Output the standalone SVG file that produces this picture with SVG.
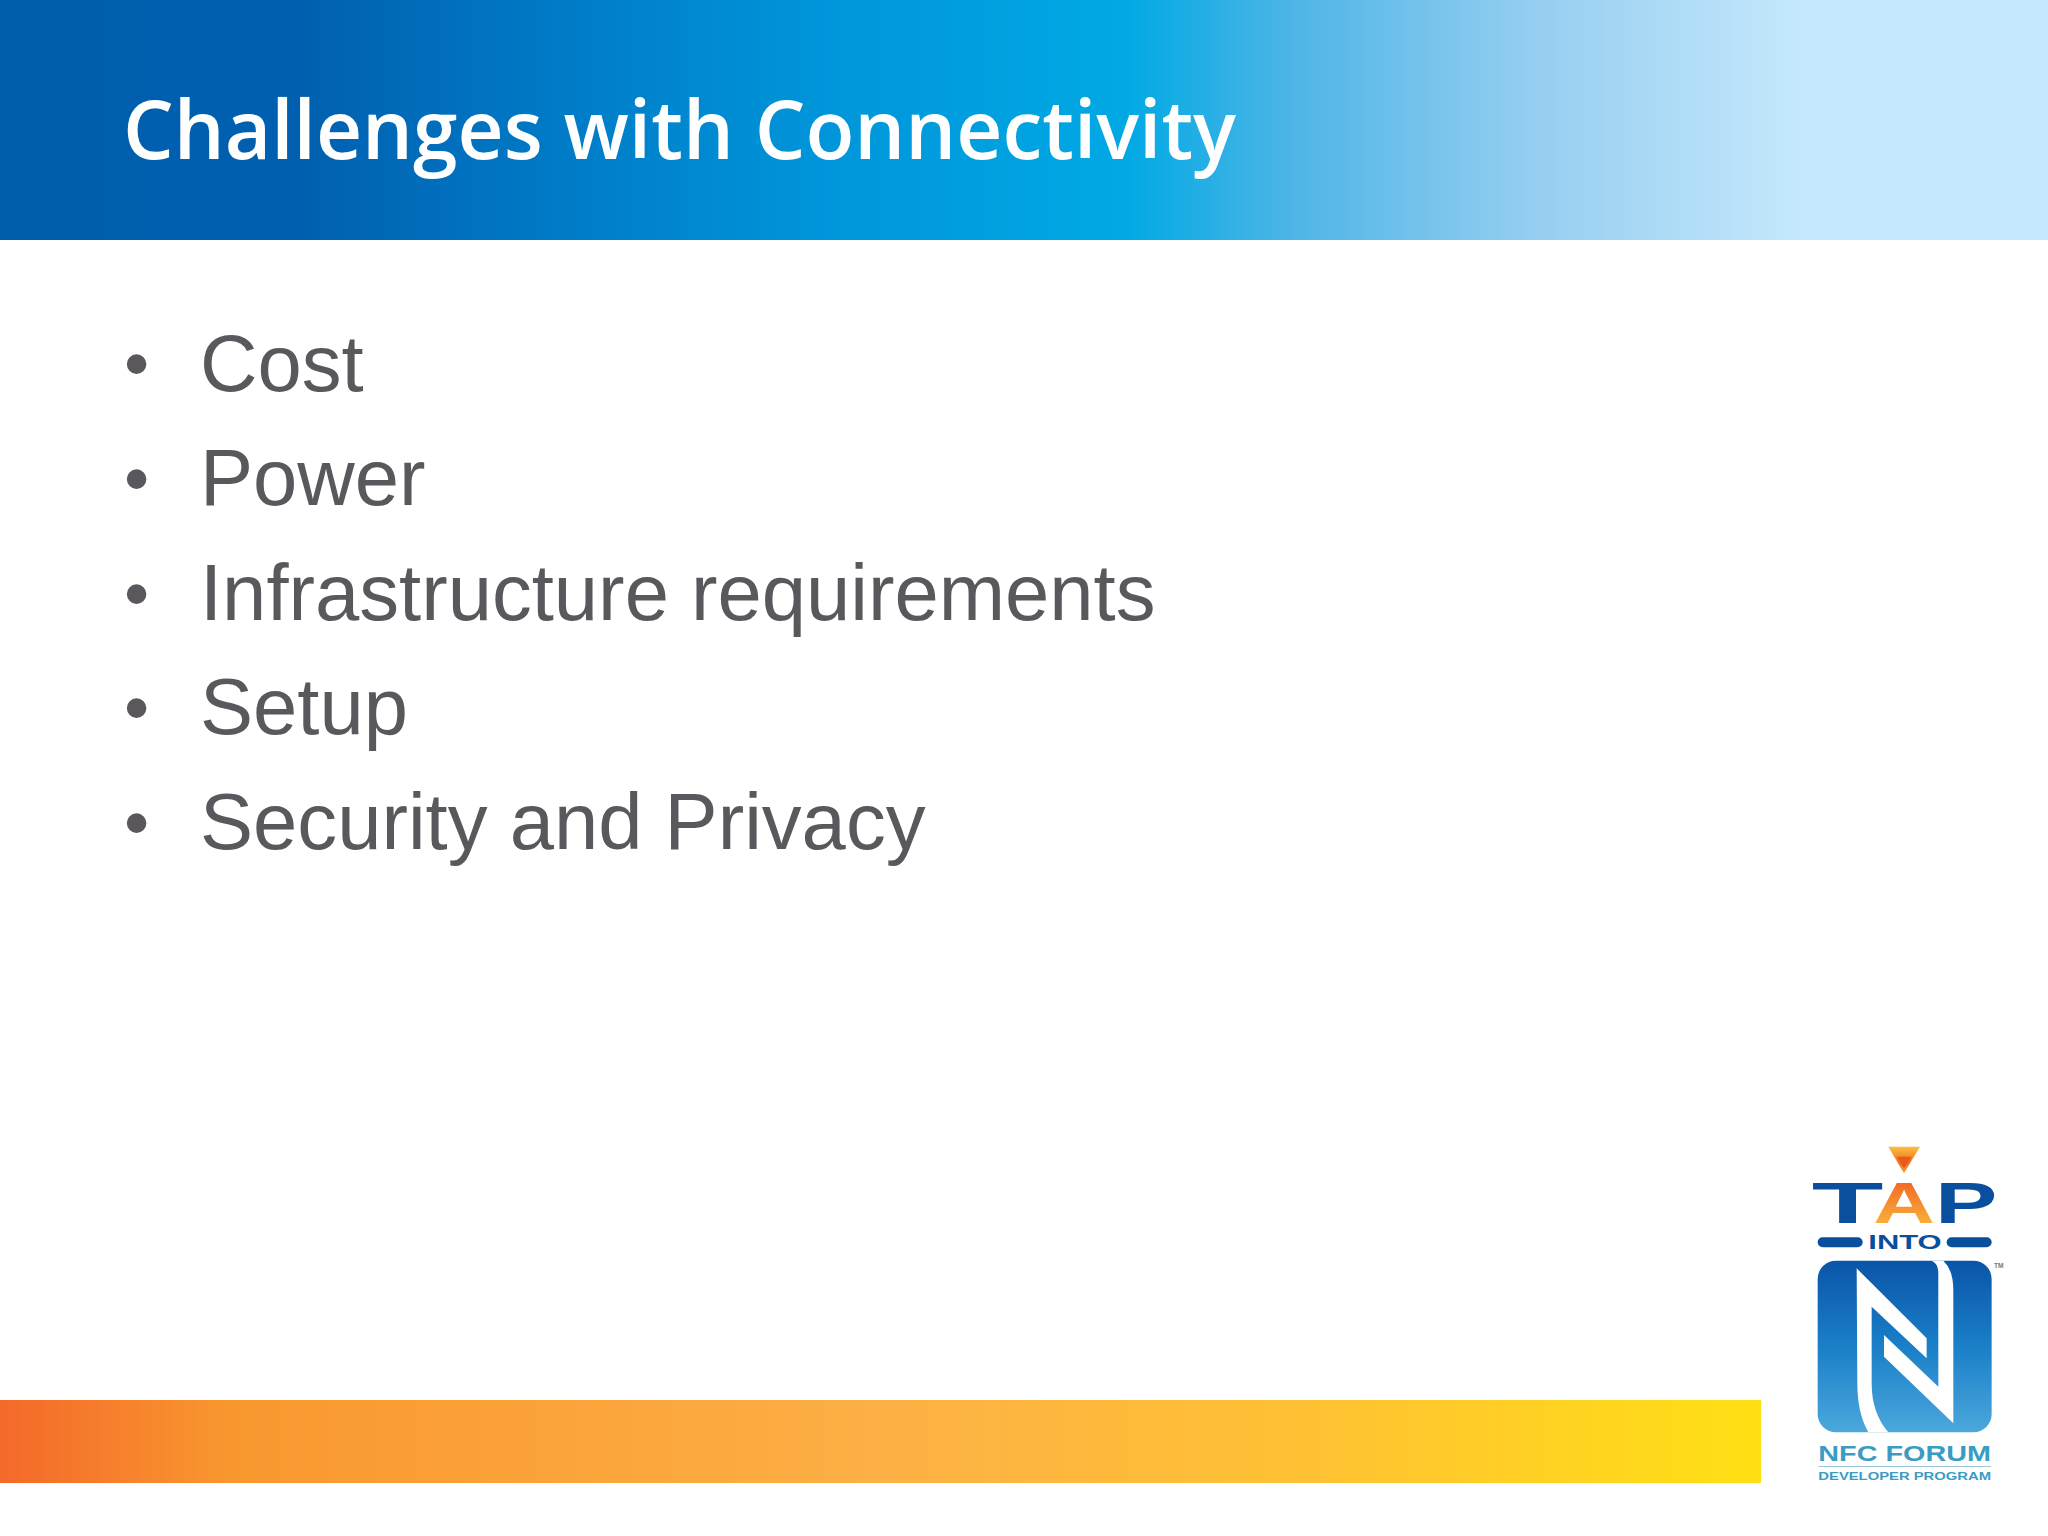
<svg xmlns="http://www.w3.org/2000/svg" width="2048" height="1536" viewBox="0 0 2048 1536">
<style>
.b{font-family:"Liberation Sans",Arial,sans-serif;font-size:79.6px;fill:#5a585c}
.m{font-family:"Liberation Sans",Arial,sans-serif;font-size:72px;fill:#5a585c}
.l{font-family:"Liberation Sans",Arial,sans-serif;font-weight:700}
.d{fill:#0a4f9e}
.t{fill:#3a9cc4}
</style>
<defs>
<linearGradient id="h" x1="0" x2="1" y1="0" y2="0">
<stop offset="0" stop-color="#005dac"/><stop offset=".15" stop-color="#0060b0"/><stop offset=".25" stop-color="#0076c3"/><stop offset=".4" stop-color="#0095da"/><stop offset=".55" stop-color="#00a9e4"/><stop offset=".63" stop-color="#4db5e6"/><stop offset=".75" stop-color="#96cef1"/><stop offset=".88" stop-color="#c5e8fc"/><stop offset="1" stop-color="#c5e8fc"/>
</linearGradient>
<linearGradient id="f" x1="0" x2="1" y1="0" y2="0">
<stop offset="0" stop-color="#f4692a"/><stop offset=".13" stop-color="#f9972f"/><stop offset=".5" stop-color="#fdb045"/><stop offset=".75" stop-color="#ffc233"/><stop offset="1" stop-color="#ffe014"/>
</linearGradient>
<linearGradient id="n" x1="0" x2="0" y1="0" y2="1">
<stop offset="0" stop-color="#0a55a8"/><stop offset=".5" stop-color="#1a7fc8"/><stop offset="1" stop-color="#4ba8dc"/>
</linearGradient>
<linearGradient id="a" x1="0" x2="0" y1="0" y2="1">
<stop offset="0" stop-color="#f0581e"/><stop offset="1" stop-color="#fbc040"/>
</linearGradient>
<linearGradient id="tri" x1="0" x2="0" y1="0" y2="1">
<stop offset="0" stop-color="#fbc040"/><stop offset=".6" stop-color="#f0701e"/><stop offset="1" stop-color="#f9a030"/>
</linearGradient>
</defs>
<rect width="2048" height="1536" fill="#fff"/>
<g id="header">
<rect width="2048" height="240" fill="url(#h)"/>
<text x="123" y="159" font-family="'Open Sans',sans-serif" font-weight="600" font-size="82" fill="#fff" textLength="1113" lengthAdjust="spacingAndGlyphs">Challenges with Connectivity</text>
</g>
<g id="bullets">
<text class="m" x="124" y="388">•</text><text class="b" x="200" y="391">Cost</text>
<text class="m" x="124" y="503">•</text><text class="b" x="200" y="505">Power</text>
<text class="m" x="124" y="618">•</text><text class="b" x="200" y="620">Infrastructure requirements</text>
<text class="m" x="124" y="732">•</text><text class="b" x="200" y="734">Setup</text>
<text class="m" x="124" y="847">•</text><text class="b" x="200" y="849">Security and Privacy</text>
</g>
<g id="footer"><rect x="0" y="1400" width="1761" height="83" fill="url(#f)"/></g>
<g id="logo" transform="translate(1780 1130) scale(.3333)">
<path d="M325 50H420L372 130Z" fill="url(#tri)"/>
<path d="M350 80H395L372 115Z" fill="#e8591c"/>
<text class="l d" x="95" y="278" font-size="172" textLength="215" lengthAdjust="spacingAndGlyphs">T</text>
<text class="l" x="280" y="278" font-size="172" fill="url(#a)" textLength="185" lengthAdjust="spacingAndGlyphs">A</text>
<text class="l d" x="465" y="278" font-size="172" textLength="187" lengthAdjust="spacingAndGlyphs">P</text>
<rect class="d" x="113" y="322" width="135" height="30" rx="15"/>
<rect class="d" x="500" y="322" width="135" height="30" rx="15"/>
<text class="l d" x="265" y="358" font-size="60" textLength="220" lengthAdjust="spacingAndGlyphs">INTO</text>
<rect x="113" y="392" width="522" height="515" rx="55" fill="url(#n)"/>
<path d="M230 415L440 625V685L275 530V760Q275 850 325 907H265Q232 850 232 760ZM312 615L475 770V430Q475 400 455 392H490Q520 420 520 480V880L312 680Z" fill="#fff"/>
<text class="l t" x="115" y="992" font-size="66" textLength="518" lengthAdjust="spacingAndGlyphs">NFC FORUM</text>
<rect x="115" y="1008" width="518" height="3" fill="#9cc8de"/>
<text class="l t" x="115" y="1050" font-size="32" textLength="518" lengthAdjust="spacingAndGlyphs">DEVELOPER PROGRAM</text>
<text class="l" x="642" y="415" font-size="20" fill="#777">TM</text>
</g>
</svg>
